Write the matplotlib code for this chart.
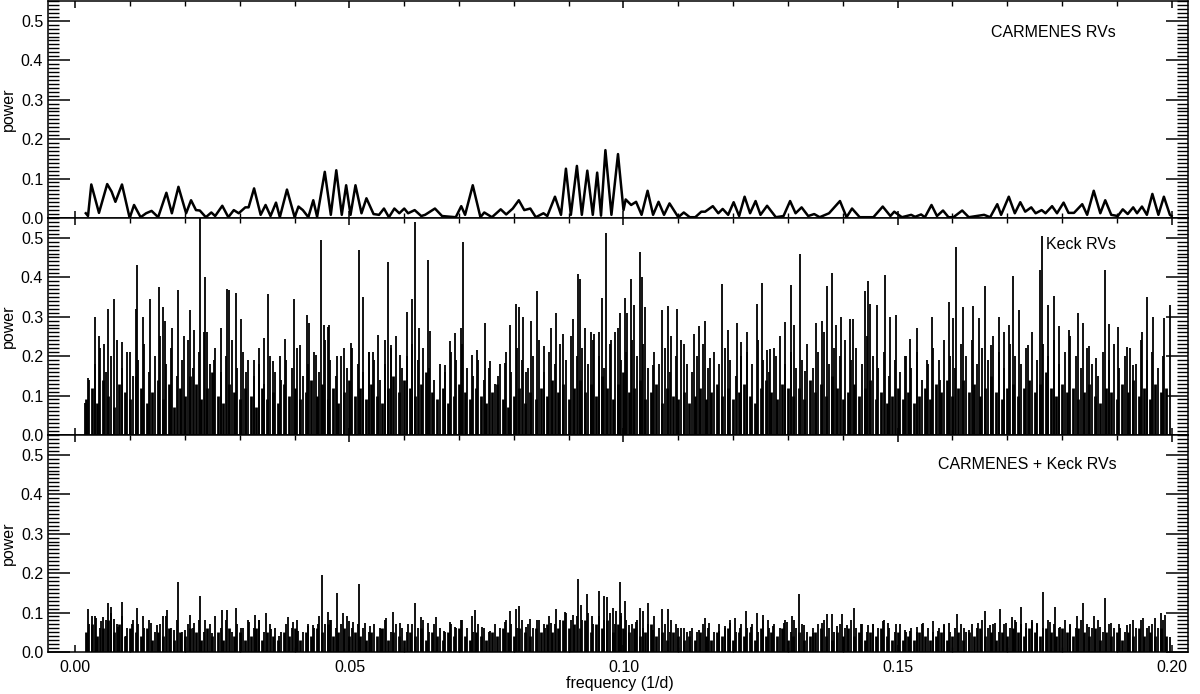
import matplotlib
matplotlib.use("Agg")
import matplotlib.pyplot as plt
import numpy as np
from matplotlib.ticker import MultipleLocator, FormatStrFormatter

plt.rcParams['font.family'] = ['Liberation Sans', 'DejaVu Sans']
plt.rcParams['font.size'] = 11.5

# --- CARMENES periodogram: peak / trough vertices ---
carm_freq = [0.0019, 0.0023, 0.0029, 0.0043, 0.0058, 0.0066, 0.0073, 0.0085, 0.0099, 0.0107,
             0.0119, 0.0129, 0.0139, 0.0151, 0.0166, 0.0176, 0.0188, 0.0202, 0.0211, 0.0220,
             0.0227, 0.0238, 0.0248, 0.0255, 0.0268, 0.0279, 0.0289, 0.0298, 0.0310, 0.0316,
             0.0326, 0.0338, 0.0347, 0.0356, 0.0366, 0.0373, 0.0386, 0.0400, 0.0407, 0.0415,
             0.0425, 0.0434, 0.0441, 0.0455, 0.0466, 0.0476, 0.0486, 0.0494, 0.0502, 0.0511,
             0.0522, 0.0531, 0.0544, 0.0554, 0.0563, 0.0572, 0.0582, 0.0591, 0.0600, 0.0607,
             0.0619, 0.0631, 0.0638, 0.0656, 0.0669, 0.0694, 0.0704, 0.0711, 0.0725, 0.0739,
             0.0746, 0.0760, 0.0776, 0.0786, 0.0798, 0.0809, 0.0819, 0.0830, 0.0840, 0.0854,
             0.0861, 0.0875, 0.0886, 0.0895, 0.0904, 0.0915, 0.0924, 0.0934, 0.0944, 0.0952,
             0.0959, 0.0967, 0.0978, 0.0990, 0.1000, 0.1004, 0.1014, 0.1023, 0.1033, 0.1044,
             0.1054, 0.1064, 0.1074, 0.1084, 0.1100, 0.1110, 0.1121, 0.1131, 0.1142, 0.1149,
             0.1163, 0.1173, 0.1181, 0.1191, 0.1201, 0.1211, 0.1221, 0.1231, 0.1241, 0.1250,
             0.1262, 0.1278, 0.1292, 0.1304, 0.1314, 0.1325, 0.1337, 0.1348, 0.1358, 0.1375,
             0.1395, 0.1407, 0.1417, 0.1431, 0.1456, 0.1473, 0.1487, 0.1494, 0.1508, 0.1525,
             0.1532, 0.1543, 0.1550, 0.1562, 0.1572, 0.1583, 0.1593, 0.1602, 0.1618, 0.1630,
             0.1658, 0.1669, 0.1682, 0.1689, 0.1703, 0.1714, 0.1724, 0.1733, 0.1744, 0.1752,
             0.1763, 0.1770, 0.1782, 0.1791, 0.1803, 0.1812, 0.1822, 0.1837, 0.1846, 0.1858,
             0.1870, 0.1879, 0.1890, 0.1902, 0.1911, 0.1920, 0.1930, 0.1937, 0.1946, 0.1955,
             0.1965, 0.1976, 0.1986, 0.1997, 0.2000]
carm_power = [0.012, 0.005, 0.085, 0.013, 0.086, 0.067, 0.041, 0.085, 0.000, 0.033,
              0.002, 0.012, 0.018, 0.002, 0.064, 0.012, 0.079, 0.012, 0.045, 0.020,
              0.019, 0.002, 0.014, 0.005, 0.031, 0.002, 0.020, 0.012, 0.027, 0.027,
              0.075, 0.008, 0.033, 0.005, 0.039, 0.002, 0.072, 0.002, 0.029, 0.020,
              0.002, 0.045, 0.003, 0.117, 0.008, 0.121, 0.008, 0.083, 0.008, 0.083,
              0.012, 0.050, 0.010, 0.008, 0.024, 0.002, 0.024, 0.012, 0.024, 0.012,
              0.020, 0.005, 0.008, 0.024, 0.005, 0.002, 0.030, 0.008, 0.083, 0.002,
              0.014, 0.002, 0.022, 0.009, 0.024, 0.045, 0.020, 0.024, 0.002, 0.012,
              0.005, 0.054, 0.008, 0.125, 0.008, 0.132, 0.008, 0.120, 0.008, 0.115,
              0.006, 0.172, 0.008, 0.162, 0.020, 0.047, 0.033, 0.041, 0.008, 0.069,
              0.008, 0.041, 0.008, 0.037, 0.002, 0.014, 0.002, 0.002, 0.016, 0.016,
              0.030, 0.012, 0.023, 0.008, 0.040, 0.005, 0.054, 0.012, 0.043, 0.008,
              0.031, 0.002, 0.005, 0.043, 0.012, 0.027, 0.005, 0.010, 0.002, 0.012,
              0.043, 0.002, 0.024, 0.002, 0.002, 0.029, 0.005, 0.016, 0.002, 0.008,
              0.003, 0.009, 0.002, 0.033, 0.005, 0.019, 0.002, 0.002, 0.019, 0.002,
              0.008, 0.002, 0.035, 0.008, 0.054, 0.012, 0.040, 0.016, 0.027, 0.012,
              0.020, 0.012, 0.030, 0.012, 0.039, 0.013, 0.013, 0.035, 0.008, 0.069,
              0.012, 0.045, 0.008, 0.005, 0.022, 0.010, 0.027, 0.012, 0.029, 0.008,
              0.061, 0.008, 0.054, 0.008, 0.005]

# --- Keck periodogram: tallest spikes (frequency, power) ---
keck_peak_freq = [0.0017, 0.0023, 0.0035, 0.0043, 0.0053, 0.0060, 0.0070, 0.0085, 0.0100, 0.0110,
                  0.0112, 0.0123, 0.0137, 0.0152, 0.0159, 0.0163, 0.0177, 0.0187, 0.0198, 0.0209,
                  0.0217, 0.0227, 0.0237, 0.0241, 0.0253, 0.0265, 0.0277, 0.0280, 0.0293, 0.0303,
                  0.0312, 0.0325, 0.0335, 0.0345, 0.0352, 0.0360, 0.0373, 0.0382, 0.0399, 0.0410,
                  0.0422, 0.0427, 0.0439, 0.0449, 0.0453, 0.0460, 0.0463, 0.0477, 0.0490, 0.0502,
                  0.0517, 0.0525, 0.0535, 0.0543, 0.0553, 0.0565, 0.0570, 0.0575, 0.0593, 0.0605,
                  0.0615, 0.0620, 0.0627, 0.0643, 0.0647, 0.0675, 0.0683, 0.0693, 0.0703, 0.0707,
                  0.0723, 0.0733, 0.0747, 0.0757, 0.0771, 0.0783, 0.0793, 0.0803, 0.0810, 0.0817,
                  0.0823, 0.0831, 0.0843, 0.0855, 0.0867, 0.0877, 0.0890, 0.0907, 0.0917, 0.0920,
                  0.0930, 0.0940, 0.0947, 0.0955, 0.0960, 0.0968, 0.0977, 0.0990, 0.0993, 0.1002,
                  0.1007, 0.1013, 0.1020, 0.1030, 0.1034, 0.1040, 0.1054, 0.1070, 0.1081, 0.1087,
                  0.1097, 0.1111, 0.1128, 0.1138, 0.1148, 0.1158, 0.1180, 0.1191, 0.1207, 0.1215,
                  0.1225, 0.1244, 0.1253, 0.1262, 0.1268, 0.1279, 0.1294, 0.1305, 0.1312, 0.1322,
                  0.1331, 0.1352, 0.1362, 0.1371, 0.1381, 0.1388, 0.1396, 0.1413, 0.1419, 0.1440,
                  0.1446, 0.1450, 0.1463, 0.1478, 0.1487, 0.1497, 0.1513, 0.1523, 0.1535, 0.1554,
                  0.1562, 0.1577, 0.1594, 0.1601, 0.1607, 0.1619, 0.1638, 0.1648, 0.1660, 0.1671,
                  0.1685, 0.1695, 0.1703, 0.1711, 0.1721, 0.1738, 0.1760, 0.1764, 0.1775, 0.1785,
                  0.1794, 0.1812, 0.1830, 0.1839, 0.1849, 0.1862, 0.1879, 0.1886, 0.1903, 0.1919,
                  0.1929, 0.1946, 0.1956, 0.1966, 0.1987, 0.1998]
keck_peak_power = [0.080, 0.145, 0.300, 0.250, 0.230, 0.320, 0.345, 0.236, 0.210, 0.320,
                   0.430, 0.300, 0.345, 0.375, 0.324, 0.290, 0.270, 0.367, 0.250, 0.316,
                   0.265, 0.550, 0.400, 0.260, 0.190, 0.270, 0.370, 0.367, 0.360, 0.295,
                   0.160, 0.190, 0.220, 0.246, 0.357, 0.187, 0.200, 0.244, 0.345, 0.227,
                   0.303, 0.284, 0.204, 0.494, 0.280, 0.275, 0.278, 0.200, 0.220, 0.232,
                   0.470, 0.350, 0.210, 0.210, 0.253, 0.242, 0.438, 0.228, 0.204, 0.312,
                   0.345, 0.539, 0.270, 0.443, 0.263, 0.178, 0.237, 0.259, 0.270, 0.490,
                   0.204, 0.216, 0.284, 0.187, 0.150, 0.183, 0.280, 0.332, 0.324, 0.300,
                   0.160, 0.288, 0.364, 0.225, 0.270, 0.310, 0.256, 0.295, 0.407, 0.396,
                   0.270, 0.260, 0.256, 0.260, 0.346, 0.512, 0.242, 0.270, 0.310, 0.346,
                   0.310, 0.396, 0.330, 0.463, 0.400, 0.325, 0.178, 0.316, 0.326, 0.250,
                   0.320, 0.230, 0.256, 0.276, 0.288, 0.195, 0.383, 0.265, 0.284, 0.236,
                   0.260, 0.332, 0.385, 0.216, 0.218, 0.200, 0.286, 0.380, 0.280, 0.459,
                   0.163, 0.284, 0.288, 0.377, 0.410, 0.280, 0.300, 0.293, 0.295, 0.366,
                   0.390, 0.332, 0.330, 0.405, 0.300, 0.303, 0.200, 0.244, 0.270, 0.190,
                   0.300, 0.140, 0.337, 0.297, 0.476, 0.324, 0.326, 0.297, 0.377, 0.227,
                   0.300, 0.260, 0.280, 0.402, 0.318, 0.227, 0.417, 0.505, 0.330, 0.353,
                   0.276, 0.265, 0.310, 0.284, 0.225, 0.194, 0.418, 0.282, 0.273, 0.222,
                   0.178, 0.260, 0.350, 0.300, 0.297, 0.330]

# --- Keck periodogram: dense low-level peaks, one per 0.001 1/d from 0.002 to 0.199 ---
keck_bg_power = [0.09, 0.12, 0.08, 0.14, 0.10, 0.07, 0.13, 0.11, 0.09, 0.15,
                 0.12, 0.08, 0.11, 0.14, 0.09, 0.13, 0.07, 0.12, 0.10, 0.15,
                 0.13, 0.09, 0.12, 0.16, 0.10, 0.08, 0.13, 0.11, 0.09, 0.12,
                 0.10, 0.07, 0.12, 0.09, 0.11, 0.08, 0.13, 0.10, 0.12, 0.09,
                 0.11, 0.14, 0.10, 0.13, 0.09, 0.12, 0.08, 0.11, 0.14, 0.10,
                 0.12, 0.09, 0.13, 0.10, 0.08, 0.12, 0.15, 0.11, 0.14, 0.12,
                 0.10, 0.13, 0.16, 0.11, 0.09, 0.12, 0.08, 0.10, 0.13, 0.11,
                 0.09, 0.12, 0.10, 0.08, 0.11, 0.13, 0.09, 0.07, 0.10, 0.12,
                 0.08, 0.11, 0.09, 0.12, 0.10, 0.14, 0.11, 0.13, 0.09, 0.12,
                 0.14, 0.11, 0.13, 0.10, 0.15, 0.12, 0.09, 0.13, 0.16, 0.11,
                 0.12, 0.14, 0.09, 0.11, 0.13, 0.08, 0.12, 0.10, 0.09, 0.11,
                 0.08, 0.10, 0.12, 0.09, 0.11, 0.13, 0.10, 0.12, 0.09, 0.11,
                 0.13, 0.10, 0.08, 0.12, 0.14, 0.11, 0.09, 0.13, 0.12, 0.10,
                 0.12, 0.09, 0.14, 0.11, 0.13, 0.10, 0.15, 0.12, 0.09, 0.11,
                 0.13, 0.10, 0.12, 0.14, 0.09, 0.11, 0.08, 0.10, 0.12, 0.09,
                 0.11, 0.08, 0.10, 0.12, 0.09, 0.13, 0.11, 0.14, 0.10, 0.12,
                 0.14, 0.11, 0.13, 0.10, 0.12, 0.15, 0.11, 0.09, 0.12, 0.13,
                 0.10, 0.12, 0.14, 0.11, 0.13, 0.16, 0.12, 0.10, 0.13, 0.11,
                 0.12, 0.09, 0.11, 0.13, 0.10, 0.08, 0.12, 0.11, 0.09, 0.13,
                 0.11, 0.14, 0.10, 0.12, 0.09, 0.13, 0.11, 0.12]

# --- Keck periodogram: mid-level side peaks, one per 0.001 1/d from 0.0025 to 0.1985 ---
keck_mid_power = [0.14, 0.18, 0.22, 0.16, 0.20, 0.24, 0.17, 0.21, 0.15, 0.19,
                  0.23, 0.16, 0.20, 0.25, 0.18, 0.22, 0.15, 0.19, 0.24, 0.17,
                  0.21, 0.26, 0.18, 0.22, 0.16, 0.20, 0.24, 0.17, 0.21, 0.19,
                  0.15, 0.18, 0.13, 0.20, 0.16, 0.14, 0.19, 0.17, 0.22, 0.15,
                  0.18, 0.21, 0.16, 0.24, 0.19, 0.15, 0.20, 0.17, 0.22, 0.18,
                  0.16, 0.21, 0.19, 0.14, 0.18, 0.22, 0.25, 0.17, 0.20, 0.23,
                  0.19, 0.22, 0.17, 0.14, 0.18, 0.16, 0.21, 0.19, 0.23, 0.17,
                  0.15, 0.19, 0.14, 0.17, 0.13, 0.18, 0.21, 0.16, 0.22, 0.19,
                  0.17, 0.20, 0.24, 0.16, 0.21, 0.18, 0.23, 0.19, 0.25, 0.20,
                  0.22, 0.18, 0.24, 0.20, 0.17, 0.23, 0.26, 0.19, 0.21, 0.24,
                  0.20, 0.23, 0.17, 0.21, 0.18, 0.22, 0.16, 0.20, 0.24, 0.18,
                  0.16, 0.20, 0.23, 0.17, 0.21, 0.18, 0.22, 0.19, 0.15, 0.20,
                  0.21, 0.18, 0.24, 0.19, 0.16, 0.22, 0.25, 0.18, 0.21, 0.17,
                  0.19, 0.23, 0.17, 0.21, 0.26, 0.18, 0.22, 0.20, 0.24, 0.19,
                  0.22, 0.18, 0.25, 0.20, 0.17, 0.21, 0.15, 0.19, 0.16, 0.20,
                  0.17, 0.21, 0.14, 0.18, 0.22, 0.19, 0.24, 0.20, 0.17, 0.23,
                  0.20, 0.24, 0.18, 0.22, 0.19, 0.25, 0.21, 0.17, 0.23, 0.20,
                  0.18, 0.22, 0.26, 0.19, 0.23, 0.20, 0.24, 0.18, 0.21, 0.25,
                  0.20, 0.17, 0.22, 0.18, 0.15, 0.21, 0.19, 0.23, 0.17, 0.20,
                  0.22, 0.18, 0.24, 0.19, 0.21, 0.17, 0.20]

# --- CARMENES + Keck periodogram: tallest spikes ---
comb_peak_freq = [0.0023, 0.0031, 0.0037, 0.0047, 0.0050, 0.0059, 0.0065, 0.0071, 0.0077, 0.0085,
                  0.0093, 0.0103, 0.0113, 0.0123, 0.0138, 0.0148, 0.0160, 0.0167, 0.0180, 0.0187,
                  0.0200, 0.0209, 0.0217, 0.0227, 0.0237, 0.0249, 0.0267, 0.0277, 0.0293, 0.0303,
                  0.0317, 0.0327, 0.0335, 0.0347, 0.0357, 0.0371, 0.0387, 0.0397, 0.0407, 0.0425,
                  0.0433, 0.0443, 0.0450, 0.0460, 0.0467, 0.0477, 0.0489, 0.0499, 0.0507, 0.0517,
                  0.0529, 0.0537, 0.0557, 0.0567, 0.0579, 0.0593, 0.0607, 0.0620, 0.0630, 0.0643,
                  0.0658, 0.0673, 0.0683, 0.0693, 0.0703, 0.0723, 0.0729, 0.0742, 0.0757, 0.0783,
                  0.0793, 0.0803, 0.0810, 0.0823, 0.0830, 0.0843, 0.0857, 0.0867, 0.0877, 0.0893,
                  0.0907, 0.0917, 0.0922, 0.0933, 0.0943, 0.0955, 0.0965, 0.0970, 0.0980, 0.0987,
                  0.0993, 0.0995, 0.1003, 0.1010, 0.1022, 0.1030, 0.1036, 0.1044, 0.1054, 0.1070,
                  0.1081, 0.1087, 0.1099, 0.1111, 0.1121, 0.1138, 0.1148, 0.1156, 0.1174, 0.1185,
                  0.1195, 0.1203, 0.1213, 0.1223, 0.1233, 0.1244, 0.1254, 0.1264, 0.1272, 0.1293,
                  0.1299, 0.1307, 0.1312, 0.1321, 0.1329, 0.1346, 0.1362, 0.1371, 0.1381, 0.1389,
                  0.1398, 0.1408, 0.1421, 0.1434, 0.1446, 0.1456, 0.1473, 0.1483, 0.1497, 0.1513,
                  0.1523, 0.1535, 0.1546, 0.1564, 0.1574, 0.1584, 0.1594, 0.1609, 0.1621, 0.1631,
                  0.1646, 0.1660, 0.1668, 0.1678, 0.1687, 0.1698, 0.1708, 0.1716, 0.1726, 0.1735,
                  0.1745, 0.1755, 0.1765, 0.1779, 0.1787, 0.1797, 0.1815, 0.1828, 0.1839, 0.1849,
                  0.1859, 0.1869, 0.1879, 0.1889, 0.1906, 0.1919, 0.1929, 0.1948, 0.1958, 0.1970,
                  0.1980, 0.1988, 0.1998]
comb_peak_power = [0.109, 0.092, 0.085, 0.079, 0.088, 0.123, 0.113, 0.084, 0.064, 0.126,
                   0.040, 0.071, 0.112, 0.091, 0.074, 0.068, 0.092, 0.106, 0.056, 0.178,
                   0.057, 0.095, 0.073, 0.142, 0.081, 0.049, 0.106, 0.106, 0.111, 0.060,
                   0.077, 0.094, 0.081, 0.098, 0.058, 0.040, 0.088, 0.077, 0.052, 0.067,
                   0.068, 0.070, 0.194, 0.102, 0.081, 0.150, 0.100, 0.079, 0.077, 0.172,
                   0.074, 0.067, 0.058, 0.085, 0.102, 0.073, 0.070, 0.123, 0.088, 0.073,
                   0.088, 0.054, 0.077, 0.064, 0.081, 0.092, 0.106, 0.064, 0.052, 0.077,
                   0.105, 0.108, 0.117, 0.064, 0.083, 0.081, 0.060, 0.073, 0.108, 0.102,
                   0.094, 0.184, 0.119, 0.146, 0.090, 0.155, 0.143, 0.140, 0.112, 0.105,
                   0.178, 0.098, 0.128, 0.068, 0.077, 0.111, 0.105, 0.125, 0.056, 0.108,
                   0.108, 0.081, 0.060, 0.060, 0.052, 0.057, 0.085, 0.073, 0.052, 0.066,
                   0.073, 0.085, 0.060, 0.105, 0.064, 0.100, 0.094, 0.081, 0.066, 0.073,
                   0.077, 0.092, 0.081, 0.147, 0.068, 0.049, 0.073, 0.096, 0.096, 0.066,
                   0.096, 0.068, 0.111, 0.070, 0.068, 0.071, 0.079, 0.073, 0.070, 0.056,
                   0.054, 0.063, 0.073, 0.079, 0.052, 0.068, 0.073, 0.096, 0.060, 0.056,
                   0.073, 0.104, 0.068, 0.073, 0.109, 0.073, 0.088, 0.077, 0.115, 0.073,
                   0.077, 0.074, 0.151, 0.077, 0.115, 0.064, 0.068, 0.090, 0.123, 0.064,
                   0.090, 0.064, 0.138, 0.073, 0.060, 0.068, 0.081, 0.085, 0.067, 0.085,
                   0.098, 0.094, 0.037]

comb_bg_power = [0.05, 0.07, 0.04, 0.06, 0.08, 0.05, 0.07, 0.04, 0.06, 0.05,
                 0.04, 0.06, 0.03, 0.05, 0.04, 0.06, 0.03, 0.05, 0.04, 0.06,
                 0.05, 0.03, 0.06, 0.04, 0.05, 0.03, 0.06, 0.04, 0.05, 0.03,
                 0.04, 0.06, 0.03, 0.05, 0.04, 0.03, 0.05, 0.04, 0.06, 0.03,
                 0.05, 0.04, 0.06, 0.05, 0.07, 0.04, 0.05, 0.06, 0.04, 0.05,
                 0.04, 0.03, 0.05, 0.04, 0.06, 0.03, 0.05, 0.04, 0.03, 0.05,
                 0.04, 0.06, 0.03, 0.05, 0.04, 0.03, 0.05, 0.04, 0.06, 0.04,
                 0.03, 0.05, 0.04, 0.03, 0.05, 0.04, 0.06, 0.05, 0.04, 0.06,
                 0.05, 0.04, 0.06, 0.05, 0.07, 0.05, 0.06, 0.08, 0.06, 0.07,
                 0.06, 0.08, 0.05, 0.07, 0.06, 0.08, 0.05, 0.07, 0.06, 0.05,
                 0.06, 0.04, 0.05, 0.07, 0.04, 0.05, 0.03, 0.05, 0.04, 0.03,
                 0.04, 0.03, 0.05, 0.04, 0.03, 0.05, 0.04, 0.06, 0.03, 0.05,
                 0.04, 0.05, 0.03, 0.06, 0.04, 0.05, 0.04, 0.06, 0.03, 0.04,
                 0.05, 0.03, 0.04, 0.05, 0.06, 0.04, 0.03, 0.05, 0.04, 0.06,
                 0.04, 0.05, 0.03, 0.05, 0.04, 0.06, 0.04, 0.03, 0.05, 0.03,
                 0.04, 0.03, 0.05, 0.04, 0.03, 0.04, 0.05, 0.03, 0.04, 0.05,
                 0.03, 0.05, 0.04, 0.06, 0.04, 0.05, 0.03, 0.05, 0.04, 0.06,
                 0.05, 0.04, 0.06, 0.05, 0.04, 0.06, 0.05, 0.04, 0.06, 0.05,
                 0.04, 0.06, 0.05, 0.04, 0.06, 0.03, 0.05, 0.04, 0.05, 0.03,
                 0.05, 0.04, 0.06, 0.04, 0.05, 0.04, 0.06, 0.04]

comb_mid_power = [0.07, 0.09, 0.06, 0.08, 0.10, 0.07, 0.09, 0.06, 0.08, 0.07,
                  0.06, 0.08, 0.05, 0.07, 0.09, 0.06, 0.08, 0.05, 0.07, 0.06,
                  0.08, 0.05, 0.07, 0.09, 0.06, 0.08, 0.05, 0.07, 0.06, 0.08,
                  0.06, 0.08, 0.05, 0.07, 0.06, 0.05, 0.07, 0.06, 0.08, 0.05,
                  0.07, 0.06, 0.09, 0.07, 0.08, 0.06, 0.07, 0.09, 0.06, 0.07,
                  0.06, 0.05, 0.07, 0.06, 0.08, 0.05, 0.07, 0.06, 0.05, 0.07,
                  0.06, 0.08, 0.05, 0.07, 0.06, 0.05, 0.07, 0.06, 0.08, 0.06,
                  0.05, 0.07, 0.06, 0.05, 0.07, 0.06, 0.08, 0.07, 0.06, 0.08,
                  0.07, 0.06, 0.08, 0.07, 0.09, 0.07, 0.08, 0.10, 0.08, 0.09,
                  0.08, 0.10, 0.07, 0.09, 0.08, 0.10, 0.07, 0.09, 0.08, 0.07,
                  0.08, 0.06, 0.07, 0.09, 0.06, 0.07, 0.05, 0.07, 0.06, 0.05,
                  0.06, 0.05, 0.07, 0.06, 0.05, 0.07, 0.06, 0.08, 0.05, 0.07,
                  0.06, 0.07, 0.05, 0.08, 0.06, 0.07, 0.06, 0.08, 0.05, 0.06,
                  0.07, 0.05, 0.06, 0.07, 0.08, 0.06, 0.05, 0.07, 0.06, 0.08,
                  0.06, 0.07, 0.05, 0.07, 0.06, 0.08, 0.06, 0.05, 0.07, 0.05,
                  0.06, 0.05, 0.07, 0.06, 0.05, 0.06, 0.07, 0.05, 0.06, 0.07,
                  0.05, 0.07, 0.06, 0.08, 0.06, 0.07, 0.05, 0.07, 0.06, 0.08,
                  0.07, 0.06, 0.08, 0.07, 0.06, 0.08, 0.07, 0.06, 0.08, 0.07,
                  0.06, 0.08, 0.07, 0.06, 0.08, 0.05, 0.07, 0.06, 0.07, 0.05,
                  0.07, 0.06, 0.08, 0.06, 0.07, 0.06, 0.08]

bg_freq = np.linspace(0.002, 0.199, len(keck_bg_power))
mid_freq = np.linspace(0.0025, 0.1985, len(keck_mid_power))

panel_labels = ["CARMENES RVs", "Keck RVs", "CARMENES + Keck RVs"]


def style_axis(ax, show_xlabels):
    ax.set_xlim(-0.005, 0.203)
    ax.set_ylim(0.0, 0.55)
    ax.xaxis.set_major_locator(MultipleLocator(0.05))
    ax.xaxis.set_minor_locator(MultipleLocator(0.01))
    ax.yaxis.set_major_locator(MultipleLocator(0.1))
    ax.yaxis.set_minor_locator(MultipleLocator(0.01))
    ax.yaxis.set_major_formatter(FormatStrFormatter('%.1f'))
    ax.xaxis.set_major_formatter(FormatStrFormatter('%.2f'))
    ax.tick_params(which='both', direction='in', top=True, right=True, color='k')
    ax.tick_params(axis='y', which='major', length=16, width=1.1, pad=3.5, labelsize=11.5)
    ax.tick_params(axis='y', which='minor', length=8, width=1.0)
    ax.tick_params(axis='x', which='major', length=5, width=1.1, pad=6, labelsize=11.5)
    ax.tick_params(axis='x', which='minor', length=3.5, width=1.0)
    if not show_xlabels:
        ax.tick_params(axis='x', labelbottom=False)
    for sp in ax.spines.values():
        sp.set_linewidth(1.1)
    ax.set_ylabel("power", fontsize=11.5)
    ax.yaxis.set_label_coords(-0.028, 0.5)


fig = plt.figure(figsize=(12, 6.94), dpi=100)
panel_h = 217 / 694
ax1 = fig.add_axes([0.04, 1 - 218 / 694, 0.95, panel_h])
ax2 = fig.add_axes([0.04, 1 - 435 / 694, 0.95, panel_h])
ax3 = fig.add_axes([0.04, 1 - 652 / 694, 0.95, panel_h])

# top: CARMENES only
ax1.plot(carm_freq, carm_power, color='k', lw=1.8, solid_joinstyle='round')
style_axis(ax1, False)

# middle: Keck only
ax2.vlines(bg_freq, 0, keck_bg_power, colors='k', lw=2.0)
ax2.vlines(mid_freq, 0, keck_mid_power, colors='k', lw=1.3)
ax2.vlines(keck_peak_freq, 0, keck_peak_power, colors='k', lw=1.3)
style_axis(ax2, False)

# bottom: combined
ax3.vlines(bg_freq, 0, comb_bg_power, colors='k', lw=2.0)
ax3.vlines(mid_freq, 0, comb_mid_power, colors='k', lw=1.3)
ax3.vlines(comb_peak_freq, 0, comb_peak_power, colors='k', lw=1.3)
style_axis(ax3, True)
ax3.set_xlabel("frequency (1/d)", fontsize=11.5)
ax3.xaxis.set_label_coords(0.502, -0.112)

label_y = [0.857, 0.876, 0.862]
for ax, txt, ly in zip([ax1, ax2, ax3], panel_labels, label_y):
    ax.text(0.937, ly, txt, transform=ax.transAxes, ha='right', va='center', fontsize=11.5)

fig.savefig("out.png", dpi=100)
